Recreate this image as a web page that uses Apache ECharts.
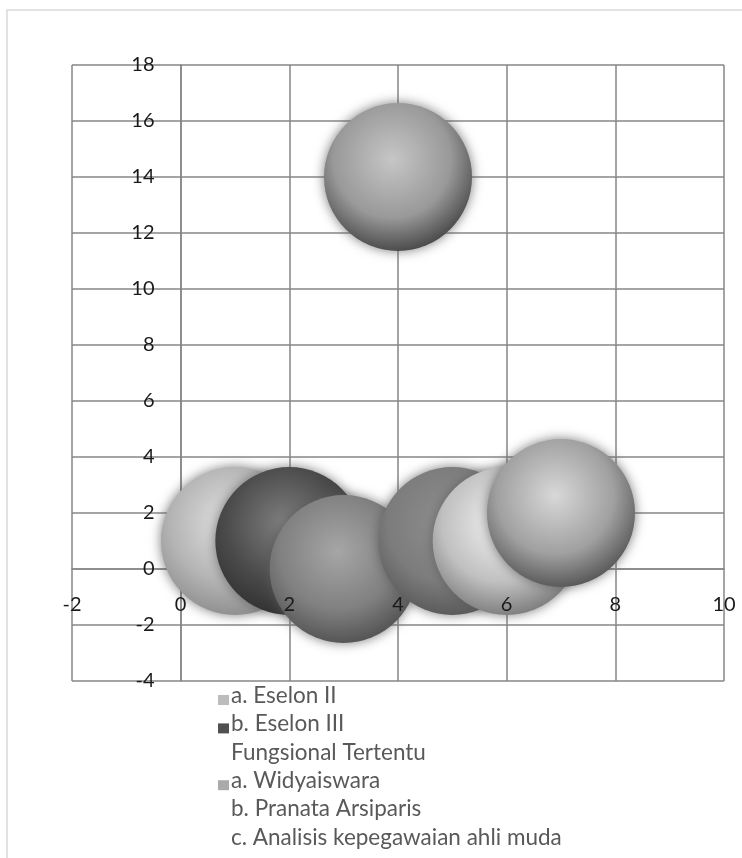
<!DOCTYPE html>
<html><head><meta charset="utf-8">
<style>html,body{margin:0;padding:0;background:#fff}#c{width:742px;height:858px}</style>
<script src="https://cdn.jsdelivr.net/npm/echarts@6/dist/echarts.min.js"></script>
</head><body><div id="c"></div>
<script>
const seriesNames = ['a. Eselon II','b. Eselon III','Fungsional Tertentu','a. Widyaiswara','b. Pranata Arsiparis','c. Analisis kepegawaian ahli muda','d.'];
const xValues = [1,2,3,4,5,6,7];
const yValues = [1,1,0,14,1,1,2];
const legendNames = seriesNames.slice(0,6);
const legendColors = ['#bcbcbc','#505050','transparent','#aaaaaa','transparent','transparent'];
const shades = [
 ['#e2e2e2','#b4b4b4','#8a8a8a'],
 ['#7e7e7e','#4a4a4a','#2e2e2e'],
 ['#a6a6a6','#808080','#4e4e4e'],
 ['#c6c6c6','#999999','#3f3f3f'],
 ['#8e8e8e','#7c7c7c','#555555'],
 ['#f2f2f2','#c0c0c0','#757575'],
 ['#d8d8d8','#a0a0a0','#4e4e4e']
];
const grad = s => ({type:'radial',x:0.46,y:0.38,r:0.66,colorStops:[{offset:0,color:s[0]},{offset:0.6,color:s[1]},{offset:1,color:s[2]}]});
const chart = echarts.init(document.getElementById('c'),null,{renderer:'canvas'});
const lineStyle = {color:'#868686',width:1.5};
chart.setOption({
 animation:false,
 backgroundColor:'#fff',
 grid:{left:72,right:18,top:65,bottom:177},
 legend:{orient:'vertical',left:218,top:684,itemWidth:11,itemHeight:10,itemGap:0.4,icon:'rect',padding:0,
   formatter:n=>`{t|${n}}\n{s| }`,
   textStyle:{fontFamily:'Lato',fontSize:22.5,color:'#595959',padding:[0,0,0,-3],
     rich:{t:{fontFamily:'Lato',fontSize:22.5,color:'#595959',lineHeight:16},s:{fontSize:8,lineHeight:9}}},
   data:legendNames.map((n,i)=>({name:n,itemStyle:{color:legendColors[i]}}))},
 xAxis:[
  {type:'value',min:-2,max:10,interval:2,position:'bottom',offset:-112,
   axisLine:{onZero:false,show:true,lineStyle},axisTick:{show:false},
   splitLine:{show:true,lineStyle},axisLabel:{show:false}},
  {type:'value',min:-2,max:10,interval:2,position:'bottom',offset:-112,z:20,
   axisLine:{show:false},axisTick:{show:false},splitLine:{show:false},
   axisLabel:{color:'#1a1a1a',fontFamily:'Lato',fontSize:20,margin:26}}
 ],
 yAxis:{type:'value',min:-4,max:18,interval:2,position:'left',offset:-108.5,
   axisLine:{onZero:false,show:true,lineStyle},axisTick:{show:false},
   splitLine:{show:true,lineStyle},
   axisLabel:{color:'#1a1a1a',fontFamily:'Lato',fontSize:20,margin:26}},
 series:seriesNames.map((n,i)=>({
   name:n,type:'scatter',symbol:'circle',symbolSize:148,xAxisIndex:0,
   itemStyle:{color:grad(shades[i]),opacity:1,shadowBlur:12,shadowColor:'rgba(90,90,90,0.8)'},
   data:[[xValues[i],yValues[i]]]
 })),
 graphic:[{type:'rect',silent:true,z:-10,shape:{x:7,y:10,width:800,height:900},style:{fill:'none',stroke:'#d9d9d9',lineWidth:1.5}}]
});
</script></body></html>
